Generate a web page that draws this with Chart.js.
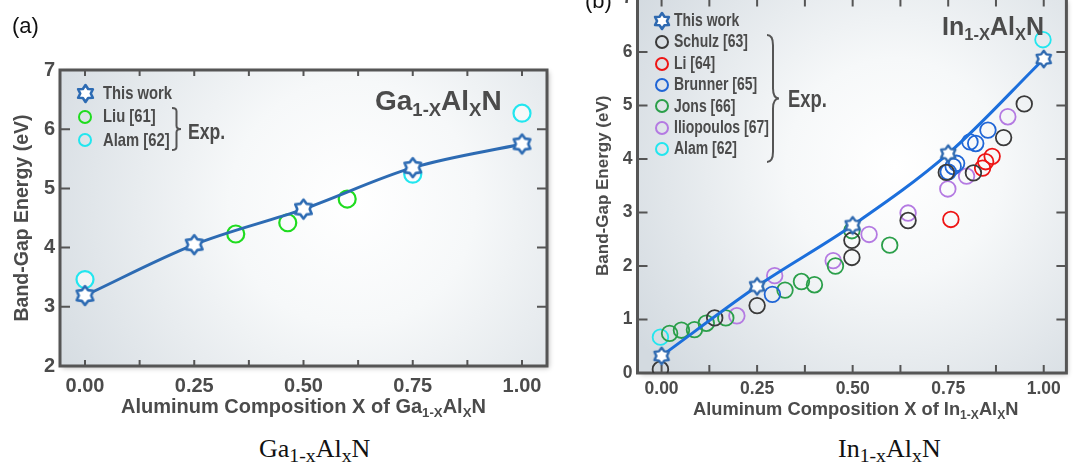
<!DOCTYPE html>
<html><head><meta charset="utf-8">
<script src="https://cdn.jsdelivr.net/npm/chart.js@4.4.1/dist/chart.umd.min.js"></script>
<style>
html,body{margin:0;padding:0;background:#fff;width:1076px;height:462px;overflow:hidden;position:relative;font-family:'Liberation Sans',Arial,sans-serif;}
.abs{position:absolute;white-space:nowrap;line-height:1;}
.bold{font-weight:bold;color:#4b4b4b;}
.cond{transform:scaleX(0.8);transform-origin:0 0;}
sub{font-size:0.66em;vertical-align:-0.3em;line-height:0;}
.cap{font-family:'Liberation Serif','Times New Roman',serif;color:#111;}
.cap sub{font-size:0.76em;vertical-align:-0.25em;}
canvas{display:block;}
</style></head><body>
<div class="abs" style="left:0;top:0;width:560px;height:400px"><canvas id="ca" width="560" height="400"></canvas></div>
<div class="abs" style="left:580px;top:-20px;width:496px;height:430px"><canvas id="cb" width="496" height="430"></canvas></div>
<div id="overlay"></div>
<script>
// ---------- data: (a) Ga1-xAlxN ----------
const gaWorkX = [0, 0.25, 0.5, 0.75, 1.0];
const gaWorkY = [3.19, 4.05, 4.65, 5.35, 5.75];
const gaLiuX  = [0.345, 0.464, 0.600];
const gaLiuY  = [4.23, 4.42, 4.82];
const gaAlamX = [0.0, 0.75, 1.0];
const gaAlamY = [3.46, 5.24, 6.27];

// ---------- data: (b) In1-xAlxN ----------
const inWorkX = [0, 0.25, 0.5, 0.75, 1.0];
const inWorkY = [0.32, 1.62, 2.76, 4.10, 5.87];
const inSchulzX = [-0.003, 0.139, 0.25, 0.498, 0.498, 0.645, 0.745, 0.816, 0.895, 0.949];
const inSchulzY = [0.07, 1.03, 1.26, 2.48, 2.16, 2.85, 3.75, 3.74, 4.40, 5.03];
const inLiX = [0.757, 0.840, 0.848, 0.865];
const inLiY = [2.87, 3.83, 3.95, 4.05];
const inBrunnerX = [0.290, 0.750, 0.763, 0.772, 0.807, 0.822, 0.854];
const inBrunnerY = [1.47, 3.76, 3.86, 3.92, 4.32, 4.29, 4.54];
const inJonsX = [0.021, 0.052, 0.086, 0.117, 0.168, 0.323, 0.366, 0.400, 0.455, 0.498, 0.597];
const inJonsY = [0.74, 0.80, 0.81, 0.93, 1.03, 1.55, 1.71, 1.65, 2.00, 2.66, 2.39];
const inIlioX = [0.197, 0.296, 0.449, 0.543, 0.645, 0.749, 0.798, 0.906];
const inIlioY = [1.07, 1.82, 2.10, 2.59, 2.99, 3.44, 3.68, 4.79];
const inAlamX = [-0.003, 0.998];
const inAlamY = [0.67, 6.23];

const xTickValues = [0, 0.25, 0.5, 0.75, 1.0];
const xTickLabels = ['0.00', '0.25', '0.50', '0.75', '1.00'];
const yTitle = 'Band-Gap Energy (eV)';

const pts = (xs, ys) => xs.map((x, i) => ({x, y: ys[i]}));

function makeStar(R, r, lw, color) {
  const c = document.createElement('canvas');
  const s = Math.ceil(2 * (R + lw) + 2);
  c.width = s; c.height = s;
  const g = c.getContext('2d');
  g.translate(s / 2, s / 2);
  g.beginPath();
  for (let i = 0; i < 12; i++) {
    const a = -Math.PI / 2 + i * Math.PI / 6;
    const rr = i % 2 === 0 ? R : r;
    const px = rr * Math.cos(a), py = rr * Math.sin(a);
    if (i === 0) g.moveTo(px, py); else g.lineTo(px, py);
  }
  g.closePath();
  g.fillStyle = '#ffffff';
  g.fill();
  g.lineJoin = 'round';
  g.lineWidth = lw;
  g.strokeStyle = color;
  g.stroke();
  return c;
}

const SANS = "'Liberation Sans',Arial,sans-serif";
const TXT = '#4b4b4b';

const framePlugin = {
  id: 'frame',
  beforeDraw(chart) {
    const {ctx, chartArea: a} = chart;
    const w = a.right - a.left, h = a.bottom - a.top;
    ctx.save();
    ctx.shadowColor = 'rgba(0,0,0,0.28)';
    ctx.shadowBlur = 5; ctx.shadowOffsetX = 2; ctx.shadowOffsetY = 2;
    ctx.fillStyle = '#dfe5ea';
    ctx.fillRect(a.left, a.top, w, h);
    ctx.restore();
    ctx.save();
    const cx = a.left + 0.6 * w, cy = a.top + 0.45 * h;
    const gr = ctx.createRadialGradient(cx, cy, 0, cx, cy, 0.72 * Math.max(w, h));
    gr.addColorStop(0, '#ffffff');
    gr.addColorStop(0.35, '#f6f8f9');
    gr.addColorStop(1, '#d3dae0');
    ctx.fillStyle = gr;
    ctx.fillRect(a.left, a.top, w, h);
    ctx.restore();
  },
  beforeDatasetsDraw(chart, args, opts) {
    const {ctx, chartArea: a, scales} = chart;
    ctx.save();
    ctx.strokeStyle = '#555555';
    ctx.lineWidth = 2;
    ctx.beginPath();
    scales.x.ticks.forEach(t => {
      const px = scales.x.getPixelForValue(t.value);
      ctx.moveTo(px, a.bottom); ctx.lineTo(px, a.bottom - opts.xLen);
      ctx.moveTo(px, a.top); ctx.lineTo(px, a.top + opts.xLen);
    });
    scales.y.ticks.forEach(t => {
      const py = scales.y.getPixelForValue(t.value);
      ctx.moveTo(a.left, py); ctx.lineTo(a.left + opts.yLen, py);
      ctx.moveTo(a.right, py); ctx.lineTo(a.right - opts.yLen, py);
    });
    ctx.stroke();
    ctx.lineWidth = 3;
    ctx.strokeRect(a.left, a.top, a.right - a.left, a.bottom - a.top);
    ctx.restore();
  }
};

function xLabel(v) {
  const i = xTickValues.findIndex(t => Math.abs(t - v) < 1e-6);
  return i >= 0 ? xTickLabels[i] : '';
}

function makeChart(id, cfg) {
  return new Chart(document.getElementById(id), {
    type: 'scatter',
    data: {datasets: cfg.datasets},
    options: {
      responsive: false, animation: false, events: [],
      layout: {padding: cfg.padding},
      plugins: {legend: {display: false}, tooltip: {enabled: false}, frame: cfg.frame},
      scales: {
        x: {
          type: 'linear', min: cfg.xmin, max: cfg.xmax,
          border: {display: false}, grid: {display: false, drawTicks: false},
          ticks: {stepSize: 0.125, includeBounds: false, autoSkip: false, maxRotation: 0,
                  padding: cfg.xPad, color: TXT, font: {family: SANS, weight: 'bold', size: cfg.tickSize},
                  callback: xLabel},
          afterFit(s) { s.height = cfg.xH; }
        },
        y: {
          type: 'linear', min: cfg.ymin, max: cfg.ymax,
          border: {display: false}, grid: {display: false, drawTicks: false},
          ticks: {stepSize: 1, includeBounds: false, padding: cfg.yPad, color: TXT,
                  font: {family: SANS, weight: 'bold', size: cfg.tickSize}},
          title: {display: true, text: yTitle, color: TXT, padding: {top: cfg.titlePad, bottom: 0},
                  font: {family: SANS, weight: 'bold', size: cfg.titleSize}},
          afterFit(s) { s.width = cfg.yW; }
        }
      }
    },
    plugins: [framePlugin]
  });
}

// ---------- chart (a) ----------
const starA = makeStar(9.5, 6.2, 2.6, '#2d6bb3');
const seriesA = [
  {label: 'This work', color: '#2d6bb3', star: true},
  {label: 'Liu [61]', color: '#1fdc1f'},
  {label: 'Alam [62]', color: '#22e6ef'}
];
makeChart('ca', {
  padding: {top: 70, right: 13, left: 0, bottom: 0},
  xmin: -0.0572, xmax: 1.0572, ymin: 2, ymax: 7,
  xH: 34, yW: 60, xPad: 8, yPad: 5, tickSize: 20, titleSize: 19.5, titlePad: 11,
  frame: {xLen: 6, yLen: 10},
  datasets: [
    {label: seriesA[0].label, data: pts(gaWorkX, gaWorkY), showLine: true, cubicInterpolationMode: 'monotone',
     borderColor: '#2d6bb3', borderWidth: 3, pointStyle: starA, backgroundColor: '#2d6bb3'},
    {label: seriesA[1].label, data: pts(gaLiuX, gaLiuY), pointRadius: 8.5, borderWidth: 2.2,
     borderColor: seriesA[1].color, backgroundColor: 'rgba(0,0,0,0)'},
    {label: seriesA[2].label, data: pts(gaAlamX, gaAlamY), pointRadius: 8.5, borderWidth: 2.2,
     borderColor: seriesA[2].color, backgroundColor: 'rgba(255,255,255,0.6)'}
  ]
});

// ---------- chart (b) ----------
const starB = makeStar(8.2, 5.3, 2.4, '#2e69b0');
const seriesB = [
  {label: 'This work', color: '#2e69b0', star: true},
  {label: 'Schulz [63]', color: '#3a3a3a'},
  {label: 'Li [64]', color: '#ee1515'},
  {label: 'Brunner [65]', color: '#1f65d6'},
  {label: 'Jons [66]', color: '#2b9f4a'},
  {label: 'Iliopoulos [67]', color: '#b47ae2'},
  {label: 'Alam [62]', color: '#22e6ef'}
];
const circ = (s, xs, ys) => ({label: s.label, data: pts(xs, ys), pointRadius: 7.8, borderWidth: 1.8,
  borderColor: s.color, backgroundColor: 'rgba(0,0,0,0)'});
makeChart('cb', {
  padding: {top: 18.5, right: 3, left: 0, bottom: 0},
  xmin: -0.063, xmax: 1.0593, ymin: 0, ymax: 7,
  xH: 37, yW: 57.5, xPad: 6, yPad: 5, tickSize: 17.5, titleSize: 17, titlePad: 13,
  frame: {xLen: 8, yLen: 10},
  datasets: [
    {label: seriesB[0].label, data: pts(inWorkX, inWorkY), showLine: true, cubicInterpolationMode: 'monotone',
     borderColor: '#1c6fdc', borderWidth: 3, pointStyle: starB, backgroundColor: '#1c6fdc'},
    circ(seriesB[1], inSchulzX, inSchulzY),
    circ(seriesB[2], inLiX, inLiY),
    circ(seriesB[3], inBrunnerX, inBrunnerY),
    circ(seriesB[4], inJonsX, inJonsY),
    circ(seriesB[5], inIlioX, inIlioY),
    circ(seriesB[6], inAlamX, inAlamY)
  ]
});

// ---------- overlay text ----------
const ov = document.getElementById('overlay');
function add(html, style, cls) {
  const d = document.createElement('div');
  d.className = 'abs ' + (cls || '');
  d.setAttribute('style', style);
  d.innerHTML = html;
  ov.appendChild(d);
  return d;
}
function legend(series, o) {
  series.forEach((s, i) => {
    const cy = o.y0 + i * o.dy;
    if (s.star) {
      const img = document.createElement('img');
      const st = makeStar(o.starR, o.starR * 0.62, 2.6, s.color);
      img.src = st.toDataURL();
      img.style.cssText = `position:absolute;left:${o.mx - st.width / 2}px;top:${cy - st.height / 2}px;`;
      ov.appendChild(img);
    } else {
      const r = o.circR;
      add('', `left:${o.mx - r}px;top:${cy - r}px;width:${2 * r - 4}px;height:${2 * r - 4}px;border:2px solid ${s.color};border-radius:50%;`);
    }
    add(s.label, `left:${o.tx}px;top:${cy - 0.5 * o.fs}px;font-size:${o.fs}px;`, 'bold cond');
  });
}
function brace(x, y, w, h) {
  const svg = `<svg width="${w + 4}" height="${h + 4}" style="position:absolute;left:${x - 2}px;top:${y - 2}px;overflow:visible">
    <path d="M2,2 Q${2 + w / 2},2 ${2 + w / 2},${2 + h * 0.08} L${2 + w / 2},${2 + h * 0.42} Q${2 + w / 2},${2 + h / 2} ${2 + w},${2 + h / 2}
      Q${2 + w / 2},${2 + h / 2} ${2 + w / 2},${2 + h * 0.58} L${2 + w / 2},${2 + h * 0.92} Q${2 + w / 2},${2 + h} 2,${2 + h}"
      fill="none" stroke="#555" stroke-width="2"/></svg>`;
  const d = document.createElement('div');
  d.innerHTML = svg;
  ov.appendChild(d.firstChild);
}

// panel (a)
add('(a)', 'left:12px;top:14.5px;font-size:22px;color:#111;');
legend(seriesA, {y0: 93.3, dy: 23.4, mx: 85, tx: 102.5, fs: 18.5, circR: 7, starR: 8.5});
brace(172, 108, 9, 42);
add('Exp.', 'left:188px;top:120.5px;font-size:22px;', 'bold cond');
add('Ga<sub>1-X</sub>Al<sub>X</sub>N', 'left:375px;top:86.5px;font-size:28px;', 'bold');
add('Aluminum Composition X of Ga<sub>1-X</sub>Al<sub>X</sub>N', 'left:121px;top:395.5px;font-size:20px;', 'bold');
add('Ga<sub>1-x</sub>Al<sub>x</sub>N', 'left:259px;top:436px;font-size:26px;', 'cap');

// panel (b)
add('(b)', 'left:585px;top:-10px;font-size:22px;color:#111;');
legend(seriesB, {y0: 20.7, dy: 21.4, mx: 661.7, tx: 674, fs: 17.5, circR: 7, starR: 8});
brace(767, 35, 12, 127);
add('Exp.', 'left:788px;top:87.5px;font-size:23px;', 'bold cond');
add('In<sub>1-X</sub>Al<sub>X</sub>N', 'left:942px;top:13.8px;font-size:25px;', 'bold');
add('Aluminum Composition X of In<sub>1-X</sub>Al<sub>X</sub>N', 'left:693px;top:399.5px;font-size:18.3px;', 'bold');
add('In<sub>1-x</sub>Al<sub>x</sub>N', 'left:838px;top:436px;font-size:26px;', 'cap');
</script>
</body></html>
